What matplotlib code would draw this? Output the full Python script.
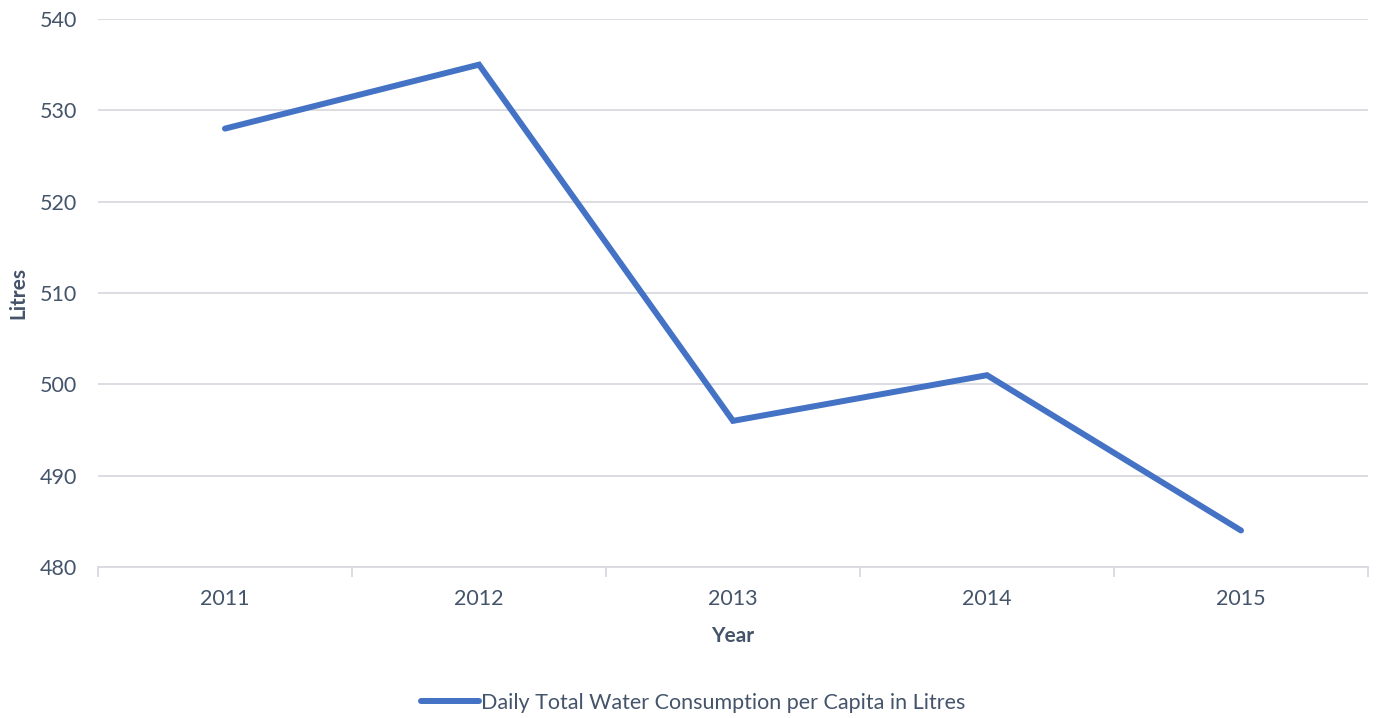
import matplotlib.pyplot as plt
from matplotlib.lines import Line2D

years = ["2011", "2012", "2013", "2014", "2015"]
litres = [528, 535, 496, 501, 484]
y_ticks = [480, 490, 500, 510, 520, 530, 540]

text_col = "#44546A"
grid_col = "#D9D9E1"
line_col = "#4472C4"

plt.rcParams["font.family"] = ["Lato", "DejaVu Sans"]

fig = plt.figure(figsize=(1389 / 100, 718 / 100), dpi=100)
ax = fig.add_axes([98 / 1389, 1 - 567 / 718, (1368 - 98) / 1389, (567 - 19) / 718])

xs = list(range(len(years)))
ax.plot(xs, litres, color=line_col, linewidth=4.3, solid_capstyle="round",
        solid_joinstyle="miter", label="Daily Total Water Consumption per Capita in Litres")

ax.set_xlim(-0.5, len(years) - 0.5)
ax.set_ylim(480, 540)
ax.set_yticks(y_ticks)
ax.set_xticks(xs)
ax.set_xticklabels(years)
ax.set_xticks([i - 0.5 for i in range(len(years) + 1)], minor=True)

ax.grid(axis="y", color=grid_col, linewidth=1.3)
ax.set_axisbelow(True)
for s in ["top", "right", "left"]:
    ax.spines[s].set_visible(False)
ax.spines["bottom"].set_color(grid_col)
ax.spines["bottom"].set_linewidth(1.3)

ax.tick_params(axis="y", length=0, pad=15, labelsize=15.5, labelcolor=text_col)
ax.tick_params(axis="x", which="major", length=0, pad=16, labelsize=15.5, labelcolor=text_col)
ax.tick_params(axis="x", which="minor", length=7, width=1.3, color=grid_col)

ax.set_ylabel("Litres", fontsize=15, fontweight="bold", color=text_col, labelpad=8)
ax.set_xlabel("Year", fontsize=15, fontweight="bold", color=text_col, labelpad=12)

handle = Line2D([0], [0], color=line_col, linewidth=4.3, solid_capstyle="round")
fig.legend([handle], ["Daily Total Water Consumption per Capita in Litres"],
           loc="center", bbox_to_anchor=(693 / 1389, 1 - 703 / 718), frameon=False,
           fontsize=15.5, labelcolor=text_col, handlelength=2.7, handletextpad=0.1)

fig.savefig("out.png", dpi=100, facecolor="white")
